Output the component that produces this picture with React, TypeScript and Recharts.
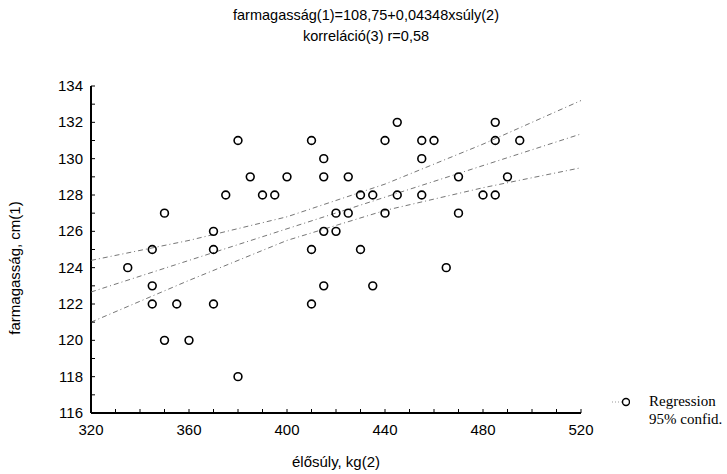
import React from 'react';
import { ScatterChart, Scatter, XAxis, YAxis } from 'recharts';

// élősúly (kg) and farmagasság (cm) for each animal
const weights = [335, 345, 345, 345, 350, 350, 355, 360, 370, 370, 370, 375, 380, 380, 385, 390, 395, 400, 410, 410, 410, 415, 415, 415, 415, 420, 420, 425, 425, 430, 430, 435, 435, 440, 440, 445, 445, 455, 455, 455, 460, 465, 470, 470, 480, 485, 485, 485, 490, 495];
const heights = [124, 125, 123, 122, 127, 120, 122, 120, 126, 125, 122, 128, 131, 118, 129, 128, 128, 129, 131, 125, 122, 130, 129, 126, 123, 127, 126, 129, 127, 128, 125, 128, 123, 131, 127, 132, 128, 131, 130, 128, 131, 124, 129, 127, 128, 132, 131, 128, 129, 131];

// regression line and 95% band
const lineX = [320, 360, 400, 440, 480, 520];
const regY = [122.66, 124.4, 126.14, 127.88, 129.62, 131.36];
const upperY = [124.4, 125.5, 126.8, 128.6, 130.8, 133.2];
const lowerY = [121.0, 123.3, 125.5, 127.15, 128.4, 129.5];

const xLabels = [320, 360, 400, 440, 480, 520];
const xTicks = [320, 330, 340, 350, 360, 370, 380, 390, 400, 410, 420, 430, 440, 450, 460, 470, 480, 490, 500, 510, 520];
const yLabels = [116, 118, 120, 122, 124, 126, 128, 130, 132, 134];
const yTicks = [116, 117, 118, 119, 120, 121, 122, 123, 124, 125, 126, 127, 128, 129, 130, 131, 132, 133, 134];

const points = weights.map((w, i) => ({ x: w, y: heights[i] }));
const toLine = (ys: number[]) => lineX.map((x, i) => ({ x, y: ys[i] }));

const SANS = '"Liberation Sans", Arial, sans-serif';
const SERIF = '"Liberation Serif", "Times New Roman", serif';

const BottomTick = ({ x, y, payload }: any) => (
  <g>
    <line x1={x} x2={x} y1={y} y2={y - 4} stroke="#000" strokeWidth={1} />
    {xLabels.includes(payload.value) && (
      <text x={x} y={y + 22} textAnchor="middle" fontSize={15} fontFamily={SANS} fill="#000">{payload.value}</text>
    )}
  </g>
);

const TopTick = ({ x, y }: any) => <line x1={x} x2={x} y1={y} y2={y + 4} stroke="#000" strokeWidth={1} />;

const LeftTick = ({ x, y, payload }: any) => (
  <g>
    <line x1={x} x2={x + 4} y1={y} y2={y} stroke="#000" strokeWidth={1} />
    {yLabels.includes(payload.value) && (
      <text x={x - 8} y={y + 5} textAnchor="end" fontSize={15} fontFamily={SANS} fill="#000">{payload.value}</text>
    )}
  </g>
);

const RightTick = ({ x, y }: any) => <line x1={x} x2={x - 4} y1={y} y2={y} stroke="#000" strokeWidth={1} />;

const Ring = ({ cx, cy }: any) => <circle cx={cx} cy={cy} r={3.9} fill="none" stroke="#000" strokeWidth={1.6} />;
const NoDot = () => <g />;

const XTitle = ({ viewBox }: any) => (
  <text x={viewBox.x + viewBox.width / 2} y={467} textAnchor="middle" fontSize={15} fontFamily={SANS} fill="#000">élősúly, kg(2)</text>
);

const YTitle = () => (
  <text x={20} y={268} transform="rotate(-90 20 268)" textAnchor="middle" fontSize={15} fontFamily={SANS} fill="#000">farmagasság, cm(1)</text>
);

const bandLine = { stroke: '#666', strokeWidth: 0.9, strokeDasharray: '5 3 1 3' };

export default function App() {
  return (
    <div style={{ position: 'absolute', left: 0, top: 0, width: 727, height: 474, background: '#fff' }}>
      <div style={{ position: 'absolute', left: 0, top: 5, width: 732, textAlign: 'center', fontFamily: SANS, fontSize: 14.5, lineHeight: '21px', color: '#000' }}>
        <div>farmagasság(1)=108,75+0,04348xsúly(2)</div>
        <div>korreláció(3) r=0,58</div>
      </div>
      <ScatterChart width={727} height={474} margin={{ top: 86, right: 146, bottom: 31, left: 0 }}>
        <XAxis
          type="number" dataKey="x" domain={[320, 520]} ticks={xTicks} interval={0}
          height={30} tickSize={0} tickMargin={0} tickLine={false} tick={BottomTick}
          axisLine={{ stroke: '#000', strokeWidth: 2 }} label={<XTitle />} allowDataOverflow
        />
        <XAxis
          xAxisId="top" orientation="top" type="number" dataKey="x" domain={[320, 520]} ticks={xTicks} interval={0}
          height={0} tickSize={0} tickMargin={0} tickLine={false} tick={TopTick}
          axisLine={{ stroke: '#000', strokeWidth: 2 }} allowDataOverflow
        />
        <YAxis
          type="number" dataKey="y" domain={[116, 134]} ticks={yTicks} interval={0}
          width={91} tickSize={0} tickMargin={0} tickLine={false} tick={LeftTick}
          axisLine={{ stroke: '#000', strokeWidth: 2 }} label={<YTitle />} allowDataOverflow
        />
        <YAxis
          yAxisId="right" orientation="right" type="number" dataKey="y" domain={[116, 134]} ticks={yTicks} interval={0}
          width={0} tickSize={0} tickMargin={0} tickLine={false} tick={RightTick}
          axisLine={{ stroke: '#000', strokeWidth: 2 }} allowDataOverflow
        />
        <Scatter data={toLine(upperY)} line={bandLine} shape={NoDot} isAnimationActive={false} />
        <Scatter data={toLine(regY)} line={bandLine} shape={NoDot} isAnimationActive={false} />
        <Scatter data={toLine(lowerY)} line={bandLine} shape={NoDot} isAnimationActive={false} />
        <Scatter data={points} shape={Ring} isAnimationActive={false} />
      </ScatterChart>
      <svg style={{ position: 'absolute', left: 610, top: 394 }} width={20} height={16}>
        <line x1={2} x2={12} y1={8} y2={8} stroke="#999" strokeWidth={1} strokeDasharray="1 2" />
        <circle cx={16} cy={8} r={3.5} fill="none" stroke="#000" strokeWidth={1.4} />
      </svg>
      <div style={{ position: 'absolute', left: 649, top: 392, fontFamily: SERIF, fontSize: 15, lineHeight: '18px', color: '#000' }}>
        <div>Regression</div>
        <div>95% confid.</div>
      </div>
    </div>
  );
}
